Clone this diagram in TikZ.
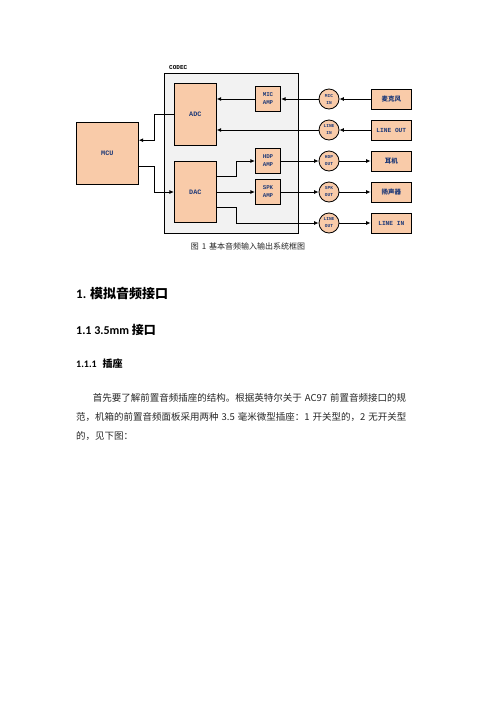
\documentclass[tikz,border=0pt]{standalone}
\usepackage{fontspec}
\setmainfont{Carlito}
\newfontfamily\cjk{Noto Sans CJK SC}
\newfontfamily\boxfont{Liberation Mono}
\usepackage{xcolor}
\usetikzlibrary{arrows.meta,positioning,calc}
\definecolor{peach}{HTML}{F9CBA9}
\definecolor{codecgrey}{HTML}{F2F2F2}
\definecolor{navy}{HTML}{1F3A78}
\XeTeXlinebreaklocale "zh"
\XeTeXlinebreakskip=0pt plus 2pt
\newcommand{\gap}{\kern3pt}

\begin{document}
\begin{tikzpicture}[
    x=1pt, y=-1pt,
    blk/.style={rectangle, draw, fill=peach, line width=0.8pt, inner sep=0pt,
                text=navy, font=\boxfont\bfseries\fontsize{6.8}{8}\selectfont},
    amp/.style={blk, minimum width=25.4pt, minimum height=25.4pt, align=center,
                font=\boxfont\bfseries\fontsize{5.8}{8}\selectfont},
    port/.style={circle, draw, fill=peach, line width=0.8pt, minimum size=20pt,
                 inner sep=0pt, align=center, text=navy,
                 font=\boxfont\bfseries\fontsize{4.5}{7}\selectfont},
    dev/.style={blk, minimum width=40.7pt, minimum height=20pt,
                font=\boxfont\bfseries\fontsize{6.2}{7}\selectfont},
    head/.style={anchor=base west, inner sep=0pt},
    body/.style={anchor=base west, inner sep=0pt, text=black!85,
                 font=\cjk\fontsize{9.5}{12}\selectfont},
    arr/.style={-{Latex[length=4.5pt,width=4pt]}, line width=0.8pt},
]
\useasboundingbox (0,0) rectangle (496,702);

% Codec frame
\node[rectangle, draw, fill=codecgrey, line width=0.8pt,
      minimum width=134pt, minimum height=159.7pt] (codec) at (231.7,153.2) {};
\node[anchor=base west, inner sep=0pt,
      font=\boxfont\bfseries\fontsize{6}{7}\selectfont] (codeclbl) at (169,69.3) {CODEC};

% Converters and controller
\node[blk, minimum width=42pt, minimum height=62pt] (adc) at (195.3,114.3) {ADC};
\node[blk, minimum width=42pt, minimum height=61pt] (dac) at (195.3,192) {DAC};
\node[blk, minimum width=62pt, minimum height=61.7pt] (mcu) at (107.3,153.2) {MCU};

% Amplifiers
\node[amp] (micamp) at (268,99) {MIC\\AMP};
\node[amp] (hdpamp) at (268,161) {HDP\\AMP};
\node[amp] (spkamp) at (268,192) {SPK\\AMP};

% Jacks
\node[port] (micin) at (329,99) {MIC\\IN};
\node[port] (linein) at (329,130) {LINE\\IN};
\node[port] (hdpout) at (329,161) {HDP\\OUT};
\node[port] (spkout) at (329,192) {SPK\\OUT};
\node[port] (lineout) at (329,223) {LINE\\OUT};

% External devices
\node[dev] (mic) at (391.3,99) {{\cjk\fontsize{6.5}{7}\selectfont 麦克风}};
\node[dev] (srcout) at (391.3,130) {LINE OUT};
\node[dev] (phone) at (391.3,161) {{\cjk\fontsize{6.5}{7}\selectfont 耳机}};
\node[dev] (speaker) at (391.3,192) {{\cjk\fontsize{6.5}{7}\selectfont 扬声器}};
\node[dev] (sinkin) at (391.3,223) {LINE IN};

% Input path
\draw[arr] (mic.west) -- (micin.east);
\draw[arr] (micin.west) -- (micamp.east);
\draw[arr] (micamp.west) -- (micamp.west -| adc.east);
\draw[arr] (srcout.west) -- (linein.east);
\draw[arr] (linein.west) -- (linein.west -| adc.east);

% MCU links
\draw[arr] (adc.west) -- ++(-20,0) |- ($(mcu.east)+(0,-13)$);
\draw[arr] ($(mcu.east)+(0,13)$) -- ++(16,0) |- (dac.west);

% Output path
\draw[arr] ($(dac.east)+(0,-16)$) -- ++(19.4,0) |- (hdpamp.west);
\draw[arr] (dac.east) -- (spkamp.west);
\draw[arr] ($(dac.east)+(0,15)$) -- ++(19.4,0) |- (lineout.west);
\draw[arr] (hdpamp.east) -- (hdpout.west);
\draw[arr] (hdpout.east) -- (phone.west);
\draw[arr] (spkamp.east) -- (spkout.west);
\draw[arr] (spkout.east) -- (speaker.west);
\draw[arr] (lineout.east) -- (sinkin.west);

% Caption
\node[anchor=base, inner sep=0pt, text=black!85,
      font=\cjk\fontsize{8}{10}\selectfont] (caption) at (248,249.7)
    {图\gap 1\gap 基本音频输入输出系统框图};

% Headings
\node[head, font=\bfseries\fontsize{13}{15}\selectfont] (h1) at (76,298.2)
    {1. {\cjk 模拟音频接口}};
\node[head, font=\bfseries\fontsize{12}{14}\selectfont] (h2) at (76,334)
    {1.1 3.5mm {\cjk 接口}};
\node[head, font=\bfseries\fontsize{10}{12}\selectfont] (h3) at (76,367.8)
    {1.1.1\hspace{6pt}{\cjk 插座}};

% Body text
\node[body] (para1) at (92.7,401)
    {\makebox[327pt][s]{首先要了解前置音频插座的结构。根据英特尔关于\gap AC97\gap 前置音频接口的规}};
\node[body] (para2) at (76,420)
    {\makebox[344pt][s]{范，机箱的前置音频面板采用两种\gap 3.5\gap 毫米微型插座：1\gap 开关型的，2\gap 无开关型}};
\node[body] (para3) at (76,439) {的，见下图：};

\end{tikzpicture}
\end{document}
